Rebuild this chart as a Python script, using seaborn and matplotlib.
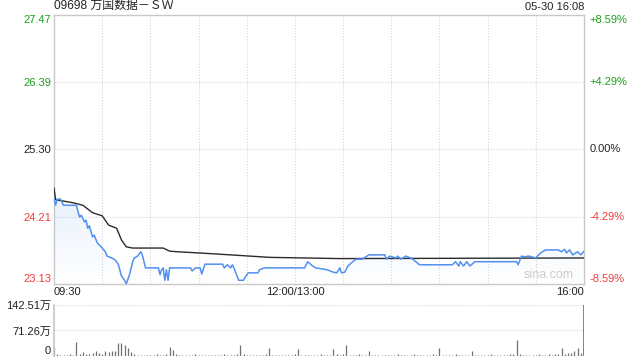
import matplotlib
matplotlib.use("Agg")
import numpy as np
import pandas as pd
import seaborn as sns
import matplotlib.pyplot as plt
from matplotlib.transforms import blended_transform_factory

# ---------------- data ----------------
title = "09698 万国数据－ＳＷ"
stamp = "05-30 16:08"
prev_close = 25.30

price_minute = [0, 1, 2, 4, 6, 14, 15, 16, 17, 19, 20, 21, 22, 24, 25, 27, 29, 31, 32, 33,
                36, 38, 40, 42, 44, 45, 47, 49, 50, 52, 54, 55, 57, 65, 66, 67, 68, 69, 70, 71,
                72, 85, 86, 88, 91, 92, 94, 105, 106, 108, 110, 111, 112, 115, 118, 119, 121, 127, 128, 131,
                156, 158, 161, 163, 170, 174, 176, 178, 179, 181, 183, 186, 188, 192, 196, 206, 207, 209, 213, 214,
                216, 219, 222, 224, 227, 228, 248, 250, 252, 253, 255, 257, 259, 262, 288, 289, 291, 293, 296, 300,
                301, 303, 306, 314, 316, 318, 319, 321, 323, 326, 328, 330]
price_value = [24.50, 24.40, 24.50, 24.50, 24.40, 24.40, 24.29, 24.21, 24.24, 24.13, 24.16, 24.03, 24.07, 23.89, 23.92, 23.79, 23.74, 23.68, 23.65, 23.58,
               23.55, 23.52, 23.45, 23.26, 23.19, 23.13, 23.28, 23.49, 23.55, 23.58, 23.65, 23.60, 23.39, 23.39, 23.28, 23.36, 23.39, 23.19, 23.36, 23.19,
               23.39, 23.39, 23.34, 23.39, 23.39, 23.29, 23.45, 23.45, 23.39, 23.44, 23.39, 23.44, 23.39, 23.19, 23.19, 23.24, 23.31, 23.31, 23.36, 23.39,
               23.39, 23.49, 23.42, 23.39, 23.36, 23.32, 23.31, 23.39, 23.31, 23.32, 23.42, 23.49, 23.53, 23.53, 23.60, 23.60, 23.53, 23.58, 23.55, 23.58,
               23.53, 23.58, 23.55, 23.52, 23.45, 23.44, 23.44, 23.49, 23.42, 23.49, 23.42, 23.49, 23.42, 23.49, 23.49, 23.44, 23.58, 23.57, 23.58, 23.55,
               23.58, 23.63, 23.68, 23.68, 23.65, 23.69, 23.63, 23.68, 23.60, 23.65, 23.60, 23.66]

avg_minute = [0, 1, 12, 18, 24, 30, 34, 39, 42, 45, 49, 68, 72, 77, 91, 116, 134, 178, 330]
avg_value = [24.68, 24.49, 24.44, 24.40, 24.28, 24.23, 24.08, 24.03, 23.84, 23.73, 23.71, 23.71, 23.66, 23.65, 23.63, 23.59, 23.56, 23.54, 23.55]

# volume in 万 shares, one bar per two minutes from 09:30
volume = [26, 5, 4, 3, 4, 6, 3, 40, 5, 12,
          6, 5, 7, 14, 8, 6, 15, 12, 15, 15,
          36, 36, 30, 22, 12, 6, 4, 3, 4, 3,
          4, 3, 5, 4, 4, 6, 26, 18, 5, 4,
          3, 4, 3, 4, 5, 3, 3, 4, 3, 4,
          3, 4, 3, 5, 4, 3, 4, 6, 30, 5,
          4, 3, 4, 3, 4, 3, 5, 22, 4, 3,
          4, 3, 3, 4, 3, 5, 19, 4, 3, 4,
          3, 4, 3, 5, 4, 3, 4, 19, 6, 4,
          5, 30, 4, 3, 4, 5, 3, 4, 14, 4,
          3, 4, 3, 4, 3, 4, 3, 5, 3, 4,
          3, 4, 5, 3, 4, 3, 4, 3, 5, 4,
          22, 4, 3, 4, 3, 5, 3, 4, 3, 4,
          14, 4, 3, 4, 3, 4, 5, 3, 4, 3,
          4, 3, 5, 6, 45, 5, 4, 3, 4, 3,
          4, 5, 4, 3, 5, 4, 6, 5, 22, 6,
          7, 8, 14, 22, 9, 22]
volume_minute = list(range(0, 2 * len(volume), 2))
closing_auction_volume = 142.51

price_ticks = [23.13, 24.21, 25.30, 26.39, 27.47]
price_tick_labels = ["23.13", "24.21", "25.30", "26.39", "27.47"]
pct_tick_labels = ["-8.59%", "-4.29%", "0.00%", "+4.29%", "+8.59%"]
vol_ticks = [0, 71.26, 142.51]
vol_tick_labels = ["0", "71.26万", "142.51万"]
time_ticks = [0, 150, 330]
time_tick_labels = ["09:30", "12:00/13:00", "16:00"]
grid_minutes = [30, 60, 90, 120, 150, 180, 210, 240, 270, 300]

# ---------------- style ----------------
sns.set_theme(style="white")
plt.rcParams["font.family"] = ["Liberation Sans", "Noto Sans CJK SC", "DejaVu Sans"]

GREEN = "#1a9f1a"
RED = "#f23a3a"
BLUE = "#5290ef"
SPINE = "#c8c8c8"
GRID = "#d4d4d4"
FS = 8

fig = plt.figure(figsize=(6.4, 3.6), dpi=100)
W, H = 640, 360
ax = fig.add_axes([54 / W, 1 - 284 / H, 530 / W, 269 / H])
axv = fig.add_axes([54 / W, 1 - 356 / H, 530 / W, 51 / H])

price_df = pd.DataFrame({"minute": price_minute, "price": price_value})
avg_df = pd.DataFrame({"minute": avg_minute, "avg": avg_value})

ymin, ymax = price_ticks[0], price_ticks[-1]

# gradient fill under price
poly = ax.fill_between(price_df["minute"], price_df["price"], ymin, color="none", lw=0)
top = max(price_value)
grad = np.zeros((100, 2, 4))
grad[..., 0] = 0.32
grad[..., 1] = 0.56
grad[..., 2] = 0.94
grad[..., 3] = np.linspace(0.0, 0.12, 100)[:, None]
im = ax.imshow(grad, extent=[0, 330, ymin, top], origin="lower", aspect="auto", zorder=1,
               interpolation="bilinear")
im.set_clip_path(poly.get_paths()[0], transform=ax.transData)

sns.lineplot(data=avg_df, x="minute", y="avg", ax=ax, color="#2b2b2b", lw=1.0, zorder=3)
sns.lineplot(data=price_df, x="minute", y="price", ax=ax, color=BLUE, lw=1.1, zorder=4)

ax.set_xlim(0, 330)
ax.set_ylim(ymin, ymax)
ax.set_xlabel("")
ax.set_ylabel("")

for m in grid_minutes:
    ax.axvline(m, color=GRID, lw=0.8, ls=(0, (1, 1.5)), zorder=0)
for p in price_ticks[1:-1]:
    ax.axhline(p, color=GRID, lw=0.8, ls=(0, (1, 1.5)), zorder=0)

for s in ax.spines.values():
    s.set_color(SPINE)
    s.set_linewidth(1.0)

left_colors = [RED, RED, "#222222", GREEN, GREEN]
ax.set_yticks(price_ticks)
ax.set_yticklabels(price_tick_labels, fontsize=FS)
ax.tick_params(axis="y", length=0, pad=2)
for lab, c in zip(ax.get_yticklabels(), left_colors):
    lab.set_color(c)
ax.get_yticklabels()[0].set_va("bottom")
ax.get_yticklabels()[-1].set_va("top")

trans = blended_transform_factory(ax.transAxes, ax.transData)
for p, lab, c in zip(price_ticks, pct_tick_labels, left_colors):
    va = "center"
    if p == price_ticks[0]:
        va = "bottom"
    elif p == price_ticks[-1]:
        va = "top"
    ax.text(1.011, p, lab, transform=trans, ha="left", va=va, fontsize=FS, color=c)

ax.set_xticks(time_ticks)
ax.set_xticklabels(time_tick_labels, fontsize=FS, color="#222222")
ax.tick_params(axis="x", length=0, pad=2.5)
ax.get_xticklabels()[0].set_ha("left")
ax.get_xticklabels()[-1].set_ha("right")

ax.text(0.0, 1.012, title, transform=ax.transAxes, ha="left", va="bottom", fontsize=8.6, color="#222222")
ax.text(1.0, 1.012, stamp, transform=ax.transAxes, ha="right", va="bottom", fontsize=FS, color="#222222")
ax.text(0.98, 0.01, "sina.com", transform=ax.transAxes, ha="right", va="bottom", fontsize=9,
        color="#cccccc", zorder=2)

# ---------------- volume ----------------
axv.vlines(volume_minute, 0, volume, color="#707070", lw=0.9)
axv.vlines([330], 0, [closing_auction_volume], color="#707070", lw=1.2)
axv.set_xlim(0, 330)
axv.set_ylim(0, vol_ticks[-1])
for v in vol_ticks[1:]:
    axv.axhline(v, color=GRID, lw=0.8, ls=(0, (1, 1.5)), zorder=0)
for k, s in axv.spines.items():
    s.set_visible(k == "left")
    s.set_color(SPINE)
axv.set_xticks([])
axv.set_yticks(vol_ticks)
axv.set_yticklabels(vol_tick_labels, fontsize=FS, color="#222222")
axv.tick_params(axis="y", length=0, pad=2)
axv.get_yticklabels()[0].set_va("bottom")

fig.savefig("out.png", dpi=100)
